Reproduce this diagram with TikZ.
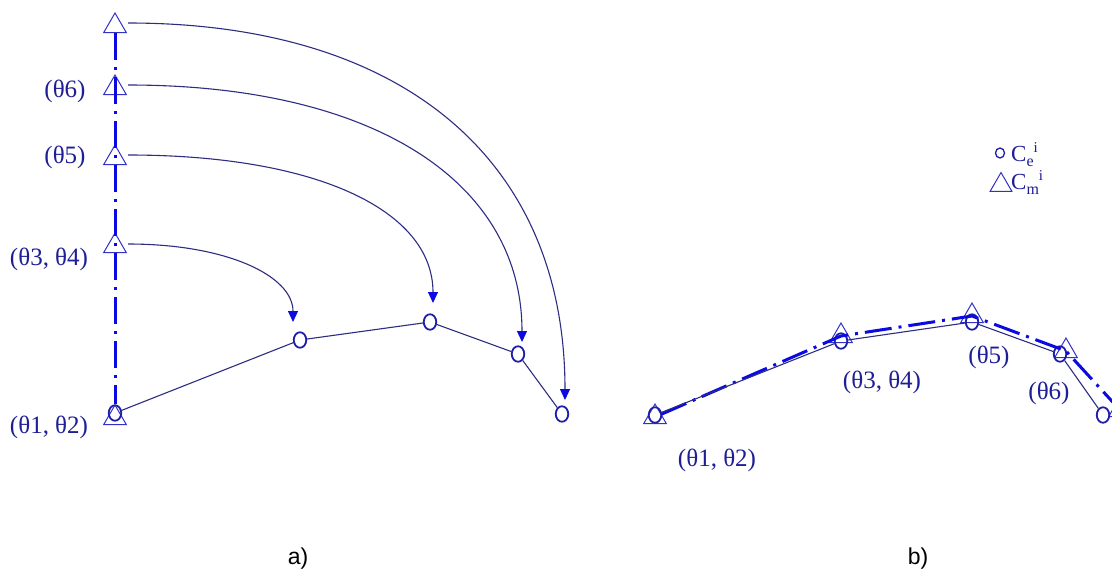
\documentclass[tikz,border=0pt]{standalone}
\usepackage{fontspec}
\setmainfont{Liberation Serif}
\newfontfamily\sansf{Liberation Sans}
\usetikzlibrary{shapes.geometric,arrows.meta}
\definecolor{txtblue}{RGB}{30,30,150}
\definecolor{triblue}{RGB}{50,50,200}
\definecolor{circblue}{RGB}{30,30,170}
\definecolor{lineblue}{RGB}{45,45,130}
\definecolor{brightblue}{RGB}{10,10,225}
\newcommand{\legC}[2]{C\raisebox{-5pt}{\fontsize{16}{16}\selectfont #2}\raisebox{9pt}{\fontsize{15}{15}\selectfont #1}}
\begin{document}
\begin{tikzpicture}[x=1pt,y=-1pt,
  tri/.style={regular polygon, regular polygon sides=3, draw=triblue, line width=1pt, minimum size=26pt, inner sep=0pt},
  circ/.style={ellipse, draw=circblue, line width=1.8pt, minimum width=12.5pt, minimum height=15.5pt, inner sep=0pt},
  dashdotline/.style={draw=brightblue, line width=3pt, dash pattern=on 27pt off 7pt on 3pt off 7pt},
  thinline/.style={draw=lineblue, line width=1.1pt},
  curve/.style={draw=lineblue, line width=1.1pt, -{Triangle[width=10pt,length=11pt,color=brightblue]}},
  lbl/.style={text=txtblue, font=\fontsize{25}{27}\selectfont, inner sep=0pt},
  captxt/.style={text=black, font=\sansf\fontsize{23}{26}\selectfont, inner sep=0pt}]
\useasboundingbox (0,0) rectangle (1112,574);
\clip (0,0) rectangle (1112,574);
\fill[white] (0,0) rectangle (1112,574);

% ---------- a) ----------
\node[tri] (lt0) at (115,26) {};
\node[tri] (lt6) at (115,88) {};
\node[tri] (lt5) at (115,158) {};
\node[tri] (lt34) at (115,246) {};
\node[tri] (lt12) at (115,418) {};
\node[circ] (lc1) at (115,413) {};
\node[circ] (lc2) at (300,340) {};
\node[circ] (lc3) at (430,322) {};
\node[circ] (lc4) at (518,354) {};
\node[circ] (lc5) at (562,414) {};

\draw[dashdotline] (lt0.south) -- (lc1.north);
\draw[thinline] (lc1) -- (lc2) -- (lc3) -- (lc4) -- (lc5);

\coordinate (a1) at (293,322);
\coordinate (a2) at (433,303);
\coordinate (a3) at (522,342);
\coordinate (a4) at (565,400);
\draw[curve] ([xshift=5pt,yshift=3pt]lt0.east) .. controls +(275,0) and +(0,-240) .. (a4);
\draw[curve] ([xshift=5pt,yshift=3pt]lt6.east) .. controls +(246,0) and +(0,-160) .. (a3);
\draw[curve] ([xshift=5pt,yshift=3pt]lt5.east) .. controls +(190,0) and +(0,-92) .. (a2);
\draw[curve] ([xshift=5pt,yshift=2pt]lt34.east) .. controls +(99,0) and +(0,-46) .. (a1);

\node[lbl] (l6) at (65,91) {(θ6)};
\node[lbl] (l5) at (65,157) {(θ5)};
\node[lbl] (l34) at (49,259) {(θ3, θ4)};
\node[lbl] (l12) at (49,427) {(θ1, θ2)};

% ---------- b) ----------
\node[tri] (rt1) at (655,417) {};
\node[tri] (rt2) at (841,336) {};
\node[tri] (rt3) at (972,316) {};
\node[tri] (rt4) at (1066,351) {};
\node[tri] (rt5) at (1120,410) {};
\node[circ] (rc1) at (655,415) {};
\node[circ] (rc2) at (841,341) {};
\node[circ] (rc3) at (972,322) {};
\node[circ] (rc4) at (1060,354) {};
\node[circ] (rc5) at (1103,415) {};

\draw[dashdotline] (rt1) -- (rt2.center) -- (rt3.center) -- (rt4.center) -- (rt5.center);
\draw[thinline] (rc1) -- (rc2) -- (rc3) -- (rc4) -- (rc5);

\node[lbl] (r12) at (717,460) {(θ1, θ2)};
\node[lbl] (r34) at (882,382) {(θ3, θ4)};
\node[lbl] (r5) at (989,357) {(θ5)};
\node[lbl] (r6) at (1049,393) {(θ6)};

% legend
\node[circ, line width=1.3pt, minimum width=9pt, minimum height=10pt] (lgc) at (1000,153) {};
\node[tri, minimum size=25pt] (lgt) at (1001,185) {};
\node[lbl, anchor=base west, font=\fontsize{23}{25}\selectfont] (lgte) at (1011,161) {\legC{i}{e}};
\node[lbl, anchor=base west, font=\fontsize{23}{25}\selectfont] (lgtm) at (1011,189) {\legC{i}{m}};

% captions
\node[captxt] (ca) at (298,559) {a)};
\node[captxt] (cb) at (918,559) {b)};
\end{tikzpicture}
\end{document}
